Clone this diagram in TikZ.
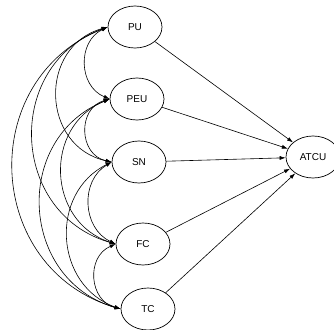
\documentclass[tikz,border=0pt]{standalone}
\usepackage{fontspec}
\setmainfont{Liberation Sans}
\usetikzlibrary{arrows.meta,shapes.geometric}
\begin{document}
\begin{tikzpicture}[x=1pt,y=1pt,
  var/.style={ellipse,draw,line width=0.7pt,minimum width=54pt,minimum height=42pt,inner sep=0pt,font=\fontsize{10}{12}\selectfont},
  cov/.style={{Latex[length=6pt,width=4pt]}-{Latex[length=6pt,width=4pt]},line width=0.6pt},
  effect/.style={-{Latex[length=6pt,width=4pt]},line width=0.6pt}]
\useasboundingbox (0,0) rectangle (334,-329);
\node[var] (PU) at (135,-27) {PU};
\node[var] (PEU) at (137,-99) {PEU};
\node[var] (SN) at (139,-162) {SN};
\node[var] (FC) at (143,-244) {FC};
\node[var] (TC) at (148,-309) {TC};
\node[var] (ATCU) at (313,-157) {ATCU};
% correlations
\draw[cov] (PU.west) to[bend right=66, looseness=1.2] (PEU.west);
\draw[cov] (PEU.west) to[bend right=76, looseness=1.37] (SN.west);
\draw[cov] (SN.west) to[bend right=62, looseness=1.15] (FC.west);
\draw[cov] (FC.west) to[bend right=71, looseness=1.28] (TC.west);
\draw[cov] (PU.west) to[bend right=76, looseness=1.37] (SN.west);
\draw[cov] (PEU.west) to[bend right=70, looseness=1.27] (FC.west);
\draw[cov] (SN.west) to[bend right=67, looseness=1.22] (TC.west);
\draw[cov] (PU.west) to[bend right=72, looseness=1.3] (FC.west);
\draw[cov] (PEU.west) to[bend right=71, looseness=1.28] (TC.west);
\draw[cov] (PU.west) to[bend right=71, looseness=1.29] (TC.west);
% effects
\draw[effect] (PU) -- (ATCU);
\draw[effect] (PEU) -- (ATCU);
\draw[effect] (SN) -- (ATCU);
\draw[effect] (FC) -- (ATCU);
\draw[effect] (TC) -- (ATCU);
\end{tikzpicture}
\end{document}
